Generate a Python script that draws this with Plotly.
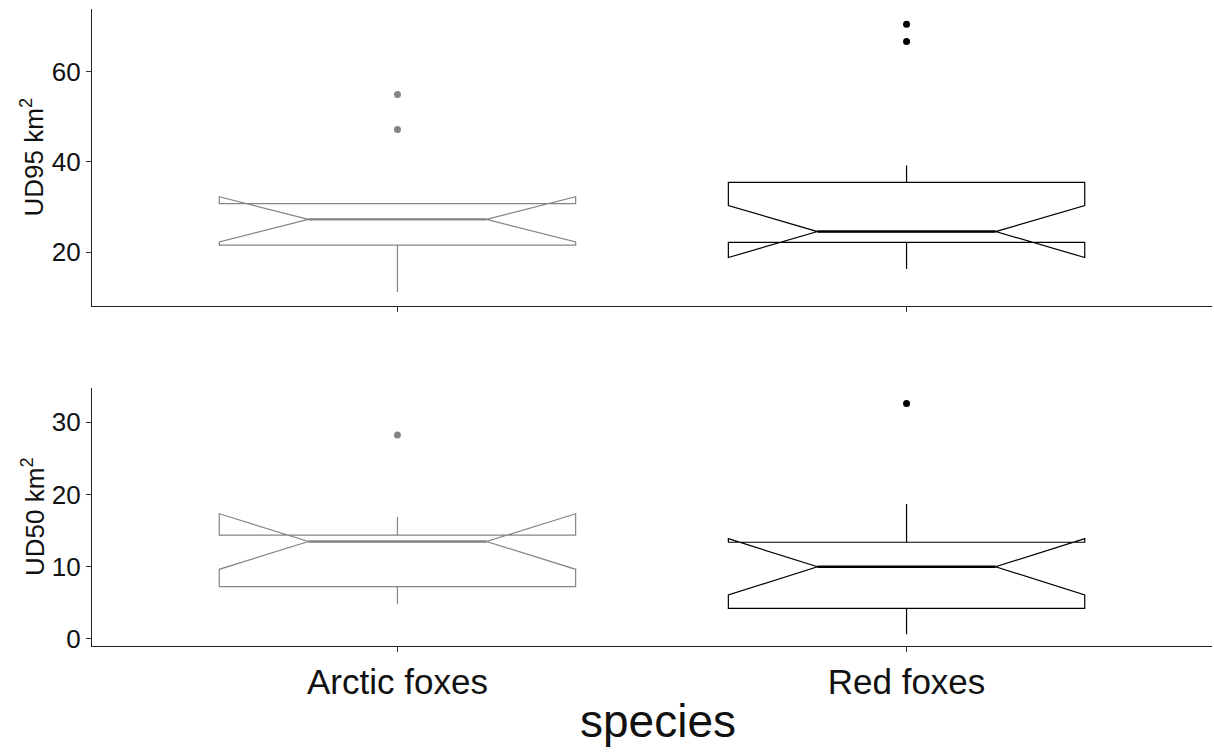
import plotly.graph_objects as go

# ---- data ----
species = ["Arctic foxes", "Red foxes"]
species_pos = [1, 2]
colors = ["#858585", "#000000"]

# UD95 (top panel)
ud95_q1 = [21.6, 22.2]
ud95_median = [27.3, 24.6]
ud95_q3 = [30.8, 35.5]
ud95_lower = [11.2, 16.3]
ud95_upper = [30.8, 39.2]
ud95_notch = [5.0, 5.75]
ud95_outliers = [[54.95, 47.2], [70.5, 66.65]]

# UD50 (bottom panel)
ud50_q1 = [7.25, 4.25]
ud50_median = [13.5, 10.0]
ud50_q3 = [14.4, 13.4]
ud50_lower = [4.8, 0.65]
ud50_upper = [16.9, 18.7]
ud50_notch = [3.85, 3.9]
ud50_outliers = [[28.25], [32.6]]

y_titles = ["UD95 km<sup>2</sup>", "UD50 km<sup>2</sup>"]
x_title = "species"

BOX_WIDTH = 0.7
NOTCH_WIDTH = 0.25
FONT = "Liberation Sans, Arial, sans-serif"
TOP_DOMAIN = [0.5338, 1]
BOT_DOMAIN = [0, 0.405]

fig = go.Figure()


def add_panel(xaxis, yaxis, q1, med, q3, lo, hi, notch, outliers):
    for i in range(len(species)):
        c = colors[i]
        x0 = species_pos[i]
        fig.add_trace(go.Box(
            x=[x0], q1=[q1[i]], median=[med[i]], q3=[q3[i]],
            lowerfence=[lo[i]], upperfence=[hi[i]], notchspan=[notch[i]],
            notched=True, notchwidth=NOTCH_WIDTH, width=BOX_WIDTH,
            whiskerwidth=0, boxpoints="outliers",
            marker=dict(opacity=0),
            line=dict(color=c, width=1.2), fillcolor="white",
            xaxis=xaxis, yaxis=yaxis, showlegend=False, hoverinfo="skip",
        ))
        # thicker median segment (ggplot fatten)
        half = BOX_WIDTH / 2 * (1 - 2 * NOTCH_WIDTH)
        fig.add_trace(go.Scatter(
            x=[x0 - half, x0 + half], y=[med[i], med[i]], mode="lines",
            line=dict(color=c, width=2.4), xaxis=xaxis, yaxis=yaxis,
            showlegend=False, hoverinfo="skip",
        ))
        fig.add_trace(go.Scatter(
            x=[x0] * len(outliers[i]), y=outliers[i], mode="markers",
            marker=dict(color=c, size=7), xaxis=xaxis, yaxis=yaxis,
            showlegend=False, hoverinfo="skip",
        ))


add_panel("x", "y", ud95_q1, ud95_median, ud95_q3, ud95_lower, ud95_upper,
          ud95_notch, ud95_outliers)
add_panel("x2", "y2", ud50_q1, ud50_median, ud50_q3, ud50_lower, ud50_upper,
          ud50_notch, ud50_outliers)

axis_common = dict(
    showline=True, linecolor="#222222", linewidth=1.3,
    ticks="outside", ticklen=5, tickwidth=1, tickcolor="#333333",
    showgrid=False, zeroline=False, automargin=False,
    tickfont=dict(family=FONT, size=26, color="#111111"),
)

fig.update_layout(
    width=1214, height=753,
    margin=dict(l=92, r=2, t=9, b=107, autoexpand=False),
    paper_bgcolor="white", plot_bgcolor="white",
    xaxis=dict(domain=[0, 1], anchor="y", range=[0.4, 2.6],
               tickvals=species_pos, ticktext=["", ""], **axis_common),
    yaxis=dict(domain=TOP_DOMAIN, anchor="x", range=[8.13, 73.85],
               tickvals=[20, 40, 60], **axis_common),
    xaxis2=dict(domain=[0, 1], anchor="y2", range=[0.4, 2.6],
                tickvals=species_pos, ticktext=species,
                **{**axis_common, "tickfont": dict(family=FONT, size=35, color="#111111")}),
    yaxis2=dict(domain=BOT_DOMAIN, anchor="x2", range=[-0.97, 34.76],
                tickvals=[0, 10, 20, 30], **axis_common),
    annotations=[
        dict(text=y_titles[0], xref="paper", yref="paper", x=-0.0527,
             y=sum(TOP_DOMAIN) / 2, textangle=-90, showarrow=False,
             xanchor="center", yanchor="middle",
             font=dict(family=FONT, size=26, color="#111111")),
        dict(text=y_titles[1], xref="paper", yref="paper", x=-0.0527,
             y=sum(BOT_DOMAIN) / 2, textangle=-90, showarrow=False,
             xanchor="center", yanchor="middle",
             font=dict(family=FONT, size=26, color="#111111")),
        dict(text=x_title, xref="paper", yref="paper", x=0.505, y=-0.118,
             showarrow=False, xanchor="center", yanchor="middle",
             font=dict(family=FONT, size=46, color="#111111")),
    ],
)

fig.write_html("out.html",
               config={"displayModeBar": False},
               post_script="document.body.style.margin='0';document.body.style.overflow='hidden';")
